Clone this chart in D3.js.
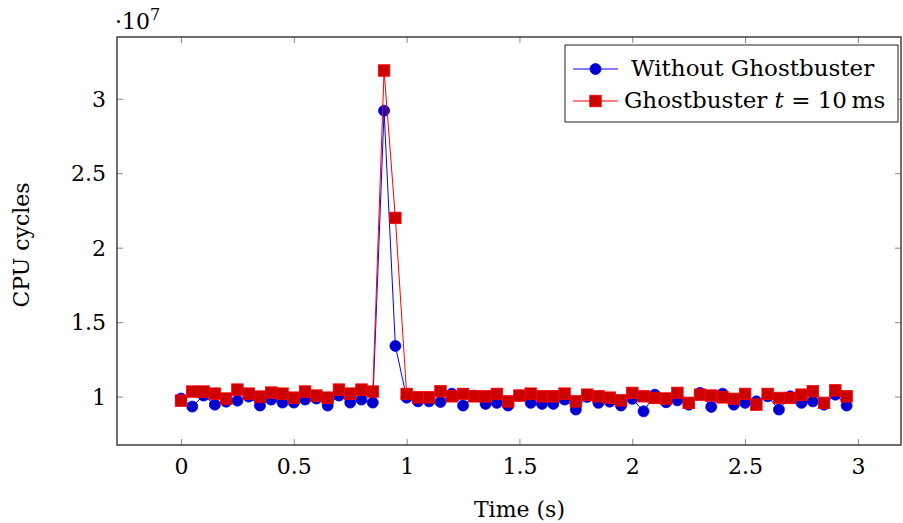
<!DOCTYPE html>
<html>
<head>
<meta charset="utf-8">
<script src="https://cdn.jsdelivr.net/npm/d3@7"></script>
<style>
  body { margin: 0; background: #fff; }
  text { font-family: "DejaVu Serif", "Liberation Serif", serif; fill: #000; }
</style>
</head>
<body>
<svg id="chart" width="903" height="523"></svg>
<script>
// time in seconds, one sample every 50 ms
const times = d3.range(60).map(i => +(i * 0.05).toFixed(2));

// CPU cycles, in units of 1e7
const withoutGhostbuster = [
  0.987, 0.933, 1.007, 0.946, 0.966, 0.973, 1.000, 0.940, 0.980, 0.960,
  0.960, 0.980, 0.987, 0.940, 1.007, 0.960, 0.980, 0.960, 2.92, 1.34,
  0.993, 0.968, 0.968, 0.964, 1.020, 0.940, 1.007, 0.951, 0.958, 0.940,
  1.007, 0.958, 0.951, 0.951, 0.980, 0.913, 0.998, 0.958, 0.966, 0.940,
  0.985, 0.901, 1.013, 0.962, 0.975, 0.946, 1.025, 0.931, 1.020, 0.946,
  0.958, 0.968, 1.002, 0.913, 1.002, 0.958, 0.968, 0.946, 1.013, 0.940
];
const ghostbuster10ms = [
  0.973, 1.034, 1.034, 1.020, 0.987, 1.047, 1.020, 1.000, 1.027, 1.020,
  0.993, 1.034, 1.007, 0.993, 1.047, 1.020, 1.047, 1.034, 3.19, 2.20,
  1.018, 0.995, 0.995, 1.036, 1.002, 1.018, 1.002, 1.002, 1.018, 0.968,
  1.007, 1.020, 1.002, 1.002, 1.020, 0.968, 1.013, 1.002, 0.993, 0.975,
  1.025, 1.002, 0.991, 0.987, 1.025, 0.958, 1.013, 1.007, 0.995, 0.985,
  1.018, 0.946, 1.018, 0.991, 0.991, 1.013, 1.036, 0.958, 1.042, 1.002
];

const xTicks = [0, 0.5, 1, 1.5, 2, 2.5, 3];
const yTicks = [1, 1.5, 2, 2.5, 3];

const plotLeft = 117, plotRight = 901, plotTop = 37, plotBottom = 445;
const svg = d3.select('#chart');

const x = d3.scaleLinear().domain([-0.2836, 3.191]).range([plotLeft, plotRight]);
const y = d3.scaleLinear().domain([0.675, 3.415]).range([plotBottom, plotTop]);

const tickFmt = d => d3.format('')(d);
const fontSize = '22px';

// ticks, drawn inside the frame on all four sides
const tickLen = 6;
const xAxisB = d3.axisBottom(x).tickValues(xTicks).tickSize(-tickLen).tickFormat(tickFmt).tickPadding(13);
const xAxisT = d3.axisTop(x).tickValues(xTicks).tickSize(-tickLen).tickFormat('');
const yAxisL = d3.axisLeft(y).tickValues(yTicks).tickSize(-tickLen).tickFormat(tickFmt).tickPadding(11);
const yAxisR = d3.axisRight(y).tickValues(yTicks).tickSize(-tickLen).tickFormat('');

function styleAxis(g) {
  g.select('.domain').remove();
  g.selectAll('.tick line').attr('stroke', '#888').attr('stroke-width', 1);
  g.selectAll('.tick text').style('font-size', fontSize).attr('font-family', null);
}

svg.append('g').attr('transform', `translate(0,${plotBottom})`).call(xAxisB).call(styleAxis);
svg.append('g').attr('transform', `translate(0,${plotTop})`).call(xAxisT).call(styleAxis);
svg.append('g').attr('transform', `translate(${plotLeft},0)`).call(yAxisL).call(styleAxis)
  .selectAll('.tick text').attr('dy', '0.35em');
svg.append('g').attr('transform', `translate(${plotRight},0)`).call(yAxisR).call(styleAxis);

// frame
svg.append('rect')
  .attr('x', plotLeft).attr('y', plotTop)
  .attr('width', plotRight - plotLeft).attr('height', plotBottom - plotTop)
  .attr('fill', 'none').attr('stroke', '#222').attr('stroke-width', 1.3);

// exponent label
const expo = svg.append('text').attr('x', 115).attr('y', 29).style('font-size', fontSize);
expo.append('tspan').text('\u00b710');
expo.append('tspan').attr('dy', -9).style('font-size', '16px').text('7');

// axis titles
svg.append('text')
  .attr('x', x(1.5)).attr('y', 517)
  .attr('text-anchor', 'middle').style('font-size', fontSize)
  .text('Time (s)');
svg.append('text')
  .attr('transform', `translate(29,${(plotTop + plotBottom) / 2 + 4}) rotate(-90)`)
  .attr('text-anchor', 'middle').style('font-size', fontSize)
  .text('CPU cycles');

const line = d3.line().x(d => x(d[0])).y(d => y(d[1]));
const plot = svg.append('g');

// blue series: circles
const blueData = times.map((t, i) => [t, withoutGhostbuster[i]]);
plot.append('path').datum(blueData)
  .attr('d', line).attr('fill', 'none').attr('stroke', '#0000ff').attr('stroke-width', 1);
plot.selectAll('circle.blue').data(blueData).join('circle')
  .attr('class', 'blue')
  .attr('cx', d => x(d[0])).attr('cy', d => y(d[1])).attr('r', 5.5)
  .attr('fill', '#0000cc').attr('stroke', '#0000ff').attr('stroke-width', 0.8);

// red series: squares
const redData = times.map((t, i) => [t, ghostbuster10ms[i]]);
const sq = 11.5;
plot.append('path').datum(redData)
  .attr('d', line).attr('fill', 'none').attr('stroke', '#ff0000').attr('stroke-width', 1);
plot.selectAll('rect.red').data(redData).join('rect')
  .attr('class', 'red')
  .attr('x', d => x(d[0]) - sq / 2).attr('y', d => y(d[1]) - sq / 2)
  .attr('width', sq).attr('height', sq)
  .attr('fill', '#cc0000').attr('stroke', '#ff0000').attr('stroke-width', 0.8);

// legend
const legend = svg.append('g');
legend.append('rect')
  .attr('x', 565).attr('y', 45).attr('width', 333).attr('height', 77)
  .attr('fill', '#fff').attr('stroke', '#222').attr('stroke-width', 1);

const rows = [
  { y: 69, color: '#0000ff', fill: '#0000cc', shape: 'circle' },
  { y: 101, color: '#ff0000', fill: '#cc0000', shape: 'square' }
];
rows.forEach(r => {
  legend.append('line')
    .attr('x1', 573).attr('x2', 618).attr('y1', r.y).attr('y2', r.y)
    .attr('stroke', r.color).attr('stroke-width', 1);
  if (r.shape === 'circle') {
    legend.append('circle').attr('cx', 595.5).attr('cy', r.y).attr('r', 5.5)
      .attr('fill', r.fill).attr('stroke', r.color).attr('stroke-width', 0.8);
  } else {
    legend.append('rect').attr('x', 595.5 - sq / 2).attr('y', r.y - sq / 2)
      .attr('width', sq).attr('height', sq)
      .attr('fill', r.fill).attr('stroke', r.color).attr('stroke-width', 0.8);
  }
});
legend.append('text').attr('x', 631).attr('y', 76).style('font-size', '23px')
  .text('Without Ghostbuster');
const l2 = legend.append('text').attr('x', 624).attr('y', 108).style('font-size', '23px');
l2.append('tspan').text('Ghostbuster ');
l2.append('tspan').style('font-style', 'italic').text('t');
l2.append('tspan').text(' = 10\u2009ms');
</script>
</body>
</html>
